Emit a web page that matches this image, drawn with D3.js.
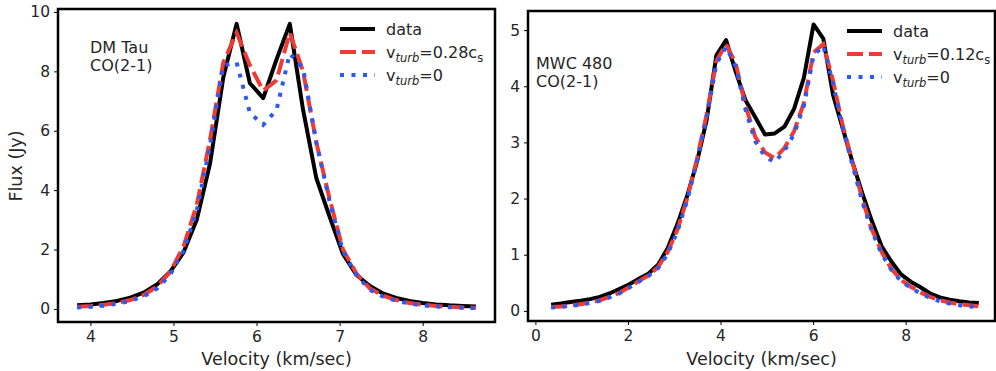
<!DOCTYPE html>
<html>
<head>
<meta charset="utf-8">
<script src="https://cdn.jsdelivr.net/npm/d3@7"></script>
<style>
  body { margin: 0; background: #fff; }
  svg text { font-family: "DejaVu Sans", sans-serif; fill: #262626; }
</style>
</head>
<body>
<svg id="chart" width="996" height="371"></svg>
<script>
// DM Tau, CO(2-1)
var dmVel = [3.84, 4.00, 4.16, 4.32, 4.48, 4.64, 4.80, 4.96, 5.12, 5.28, 5.44, 5.60, 5.76, 5.92, 6.08, 6.24,
  6.40, 6.56, 6.72, 6.88, 7.04, 7.20, 7.36, 7.52, 7.68, 7.84, 8.00, 8.16, 8.32, 8.48, 8.64];
var dmData = [0.12, 0.15, 0.2, 0.27, 0.38, 0.55, 0.82, 1.25, 1.9, 3.0, 4.9, 7.8, 9.6, 7.6, 7.1, 8.4,
  9.6, 6.7, 4.4, 3.1, 1.85, 1.15, 0.78, 0.52, 0.37, 0.27, 0.2, 0.15, 0.12, 0.1, 0.08];
var dmTurb = [0.07, 0.1, 0.14, 0.2, 0.3, 0.47, 0.75, 1.25, 2.1, 3.5, 5.7, 8.3, 9.3, 8.2, 7.35, 7.7,
  9.3, 8.0, 5.6, 3.7, 2.0, 1.2, 0.7, 0.45, 0.3, 0.2, 0.14, 0.1, 0.07, 0.05, 0.04];
var dmZero = [0.05, 0.07, 0.11, 0.17, 0.27, 0.42, 0.68, 1.15, 1.95, 3.3, 5.5, 8.2, 8.3, 6.6, 6.2, 6.7,
  8.6, 8.1, 5.6, 3.6, 1.95, 1.15, 0.65, 0.42, 0.27, 0.18, 0.12, 0.08, 0.06, 0.04, 0.03];

// MWC 480, CO(2-1)
var mwcVel = [0.34, 0.55, 0.76, 0.97, 1.18, 1.39, 1.60, 1.81, 2.02, 2.23, 2.44, 2.65, 2.86, 3.07, 3.28,
  3.49, 3.70, 3.91, 4.12, 4.33, 4.54, 4.75, 4.96, 5.17, 5.38, 5.59, 5.80, 6.01, 6.22, 6.43,
  6.64, 6.85, 7.06, 7.27, 7.48, 7.69, 7.90, 8.11, 8.32, 8.53, 8.74, 8.95, 9.16, 9.37, 9.58];
var mwcData = [0.11, 0.13, 0.16, 0.18, 0.21, 0.25, 0.31, 0.39, 0.47, 0.57, 0.66, 0.82, 1.12, 1.55, 2.05,
  2.65, 3.4, 4.55, 4.82, 4.25, 3.75, 3.45, 3.14, 3.16, 3.28, 3.6, 4.15, 5.1, 4.85, 3.85,
  3.25, 2.65, 2.1, 1.6, 1.15, 0.88, 0.65, 0.52, 0.42, 0.31, 0.24, 0.2, 0.17, 0.15, 0.14];
var mwcTurb = [0.07, 0.08, 0.1, 0.12, 0.15, 0.19, 0.25, 0.32, 0.42, 0.53, 0.63, 0.78, 1.05, 1.45, 2.0,
  2.7, 3.5, 4.45, 4.75, 4.4, 3.65, 3.1, 2.82, 2.72, 2.9, 3.2, 3.7, 4.6, 4.75, 4.1,
  3.3, 2.65, 2.0, 1.45, 1.05, 0.75, 0.55, 0.43, 0.33, 0.25, 0.19, 0.15, 0.12, 0.1, 0.08];
var mwcZero = [0.06, 0.07, 0.09, 0.11, 0.14, 0.18, 0.24, 0.31, 0.41, 0.52, 0.62, 0.76, 1.02, 1.42, 1.97,
  2.66, 3.45, 4.4, 4.7, 4.35, 3.58, 3.02, 2.75, 2.65, 2.85, 3.15, 3.65, 4.55, 4.72, 4.05,
  3.25, 2.6, 1.95, 1.42, 1.02, 0.73, 0.53, 0.41, 0.31, 0.23, 0.17, 0.13, 0.1, 0.08, 0.07];

var dmXTicks = [4, 5, 6, 7, 8];
var dmYTicks = [0, 2, 4, 6, 8, 10];
var mwcXTicks = [0, 2, 4, 6, 8];
var mwcYTicks = [0, 1, 2, 3, 4, 5];

var black = "#000", red = "#ee3b35", blue = "#2b59f5";

var svg = d3.select("#chart");

function drawPanel(p) {
	var x = d3.scaleLinear().domain(p.xDom).range([p.left, p.right]);
	var y = d3.scaleLinear().domain(p.yDom).range([p.bottom, p.top]);
	var g = svg.append("g");

	g.append("g").attr("transform", "translate(0," + p.bottom + ")")
		.call(d3.axisBottom(x).tickValues(p.xTicks).tickSize(4).tickPadding(5).tickFormat(d3.format("d")))
		.call(function(a) { a.select(".domain").remove(); a.selectAll("text").style("font-size", "15.5px").attr("fill", "#262626"); });
	g.append("g").attr("transform", "translate(" + p.left + ",0)")
		.call(d3.axisLeft(y).tickValues(p.yTicks).tickSize(4).tickPadding(4).tickFormat(d3.format("d")))
		.call(function(a) { a.select(".domain").remove(); a.selectAll("text").style("font-size", "15.5px").attr("fill", "#262626"); });

	var line = function(vals) {
		return d3.line().x(function(d, i) { return x(p.vel[i]); }).y(function(d) { return y(d); })(vals);
	};
	var clip = "clip" + p.id;
	g.append("clipPath").attr("id", clip).append("rect")
		.attr("x", p.left).attr("y", p.top).attr("width", p.right - p.left).attr("height", p.bottom - p.top);
	var lines = g.append("g").attr("clip-path", "url(#" + clip + ")").attr("fill", "none");
	lines.append("path").attr("d", line(p.data)).attr("stroke", black).attr("stroke-width", 4).attr("stroke-linejoin", "round");
	lines.append("path").attr("d", line(p.turb)).attr("stroke", red).attr("stroke-width", 4).attr("stroke-dasharray", "16,6");
	lines.append("path").attr("d", line(p.zero)).attr("stroke", blue).attr("stroke-width", 4).attr("stroke-dasharray", "4,7.5");

	g.append("rect").attr("x", p.left).attr("y", p.top).attr("width", p.right - p.left).attr("height", p.bottom - p.top)
		.attr("fill", "none").attr("stroke", "#000").attr("stroke-width", 2.5);

	// axis label
	g.append("text").attr("x", (p.left + p.right) / 2).attr("y", 365).attr("text-anchor", "middle")
		.style("font-size", "17.5px").text("Velocity (km/sec)");

	// object label
	g.append("text").attr("x", p.noteX).attr("y", p.noteY).style("font-size", "16px").text(p.name);
	g.append("text").attr("x", p.noteX).attr("y", p.noteY + 18).style("font-size", "16px").text("CO(2-1)");

	// legend
	var lg = g.append("g");
	var rows = [
		{ color: black, dash: null },
		{ color: red, dash: "16,6" },
		{ color: blue, dash: "4,7.5" }
	];
	rows.forEach(function(r, i) {
		var ly = p.legY + i * 23;
		lg.append("line").attr("x1", p.legX).attr("x2", p.legX + 35).attr("y1", ly).attr("y2", ly)
			.attr("stroke", r.color).attr("stroke-width", 4).attr("stroke-dasharray", r.dash);
	});
	var tx = p.legX + 46;
	lg.append("text").attr("x", tx).attr("y", p.legY + 6).style("font-size", "16px").text("data");
	var t1 = lg.append("text").attr("x", tx).attr("y", p.legY + 23 + 6).style("font-size", "16px");
	t1.append("tspan").text("v");
	t1.append("tspan").attr("dy", 4).style("font-size", "11.5px").style("font-style", "italic").text("turb");
	t1.append("tspan").attr("dy", -4).text("=" + p.turbLabel + "c");
	t1.append("tspan").attr("dy", 4).style("font-size", "11.5px").text("s");
	var t2 = lg.append("text").attr("x", tx).attr("y", p.legY + 46 + 6).style("font-size", "16px");
	t2.append("tspan").text("v");
	t2.append("tspan").attr("dy", 4).style("font-size", "11.5px").style("font-style", "italic").text("turb");
	t2.append("tspan").attr("dy", -4).text("=0");
}

drawPanel({
	id: 1, left: 58, right: 495, top: 9, bottom: 322,
	xDom: [3.61, 8.87], yDom: [-0.44, 10.1],
	xTicks: dmXTicks, yTicks: dmYTicks,
	vel: dmVel, data: dmData, turb: dmTurb, zero: dmZero,
	name: "DM Tau", noteX: 90, noteY: 53, legX: 340, legY: 29, turbLabel: "0.28"
});

drawPanel({
	id: 2, left: 528, right: 995, top: 11, bottom: 321,
	xDom: [-0.16, 9.93], yDom: [-0.18, 5.34],
	xTicks: mwcXTicks, yTicks: mwcYTicks,
	vel: mwcVel, data: mwcData, turb: mwcTurb, zero: mwcZero,
	name: "MWC 480", noteX: 536, noteY: 69, legX: 847, legY: 31, turbLabel: "0.12"
});

svg.append("text").attr("transform", "translate(22,166) rotate(-90)").attr("text-anchor", "middle")
	.style("font-size", "17.5px").text("Flux (Jy)");
</script>
</body>
</html>
